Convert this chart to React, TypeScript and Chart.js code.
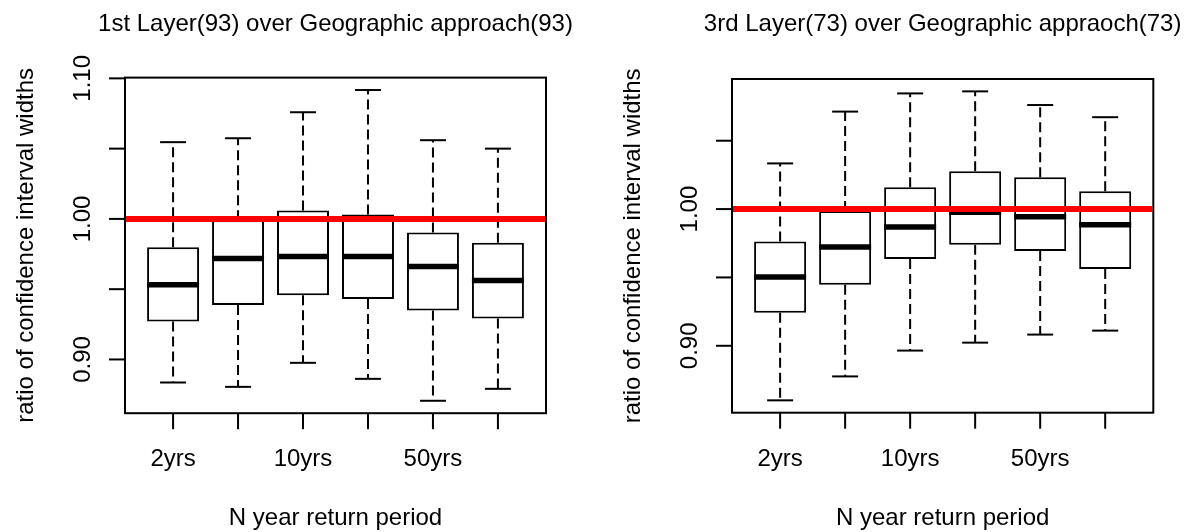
import React, { useEffect, useRef } from "react";
import { Chart, registerables } from "chart.js";

Chart.register(...registerables);

// Return periods: one box per period; only every other label fits under the axis.
const periodPositions = [1, 2, 3, 4, 5, 6];
const periodLabels = ["2yrs", "", "10yrs", "", "50yrs", ""];

// 1st Layer(93) / Geographic approach(93): five-number summaries per return period
const layer1Lower = [0.8836, 0.8805, 0.8976, 0.8862, 0.8706, 0.8791];
const layer1Q1 = [0.927, 0.9388, 0.9457, 0.9431, 0.9348, 0.9291];
const layer1Median = [0.9531, 0.9718, 0.9732, 0.9732, 0.9661, 0.9561];
const layer1Q3 = [0.9799, 0.999, 1.0059, 1.0031, 0.9903, 0.9831];
const layer1Upper = [1.0546, 1.0574, 1.0759, 1.0917, 1.056, 1.05];

// 3rd Layer(73) / Geographic approach(73)
const layer3Lower = [0.8601, 0.8776, 0.8965, 0.9023, 0.9082, 0.9111];
const layer3Q1 = [0.9242, 0.9446, 0.9635, 0.9739, 0.9693, 0.9562];
const layer3Median = [0.9504, 0.9722, 0.9868, 0.9977, 0.9943, 0.9885];
const layer3Q3 = [0.9763, 0.9985, 1.0159, 1.0276, 1.0232, 1.013];
const layer3Upper = [1.0334, 1.0713, 1.0846, 1.0861, 1.0761, 1.0672];

const layer1YTicks = [0.9, 0.95, 1.0, 1.05, 1.1];
const layer1YLabels = ["0.90", "", "1.00", "", "1.10"];
const layer3YTicks = [0.9, 0.95, 1.0, 1.05];
const layer3YLabels = ["0.90", "", "1.00", ""];

// Ratio of 1 means both approaches give equally wide intervals.
const referenceRatio = 1.0;

const FONT = "24px 'Liberation Sans', Arial, Helvetica, sans-serif";
const CANVAS_W = 593;
const CANVAS_H = 532;

type PanelProps = {
  title: string;
  lower: number[];
  q1: number[];
  median: number[];
  q3: number[];
  upper: number[];
  yTicks: number[];
  yLabels: string[];
  pad: { left: number; right: number; top: number; bottom: number };
};

function BoxPanel(props: PanelProps) {
  const canvasRef = useRef<HTMLCanvasElement>(null);

  useEffect(() => {
    const { title, lower, q1, median, q3, upper, yTicks, yLabels, pad } = props;
    const n = q1.length;
    // R-style axis limits: data range widened by 4% on each side
    const lo = Math.min(...lower);
    const hi = Math.max(...upper);
    const yExt = (hi - lo) * 0.04;
    const xExt = n * 0.04;

    const line = (ctx: CanvasRenderingContext2D, x1: number, y1: number, x2: number, y2: number) => {
      ctx.beginPath();
      ctx.moveTo(x1, y1);
      ctx.lineTo(x2, y2);
      ctx.stroke();
    };

    const boxplotParts = {
      id: "boxplotParts",
      afterDatasetsDraw(chart: Chart) {
        const ctx = chart.ctx;
        const xs = chart.scales.x;
        const ys = chart.scales.y;
        const area = chart.chartArea;
        ctx.save();
        ctx.strokeStyle = "#000";
        ctx.lineCap = "butt";
        for (let i = 0; i < n; i++) {
          const pos = periodPositions[i];
          const cx = xs.getPixelForValue(pos);
          const half = xs.getPixelForValue(pos + 0.4) - cx;
          const capHalf = half / 2;
          // dashed whiskers
          ctx.lineWidth = 2;
          ctx.setLineDash([10, 5]);
          line(ctx, cx, ys.getPixelForValue(q3[i]), cx, ys.getPixelForValue(upper[i]));
          line(ctx, cx, ys.getPixelForValue(q1[i]), cx, ys.getPixelForValue(lower[i]));
          ctx.setLineDash([]);
          // staples
          const yu = ys.getPixelForValue(upper[i]);
          const yl = ys.getPixelForValue(lower[i]);
          line(ctx, cx - capHalf, yu, cx + capHalf, yu);
          line(ctx, cx - capHalf, yl, cx + capHalf, yl);
          // median
          ctx.lineWidth = 5.5;
          const ym = ys.getPixelForValue(median[i]);
          line(ctx, cx - half, ym, cx + half, ym);
        }
        // plot frame
        ctx.lineWidth = 2;
        ctx.strokeRect(area.left, area.top, area.right - area.left, area.bottom - area.top);
        // reference line at ratio 1
        ctx.strokeStyle = "#ff0000";
        ctx.lineWidth = 6;
        const yr = ys.getPixelForValue(referenceRatio);
        line(ctx, area.left + 1, yr, area.right - 1, yr);
        ctx.restore();
      },
      afterDraw(chart: Chart) {
        const ctx = chart.ctx;
        const xs = chart.scales.x;
        const ys = chart.scales.y;
        const area = chart.chartArea;
        const tickLen = 16;
        ctx.save();
        ctx.strokeStyle = "#000";
        ctx.fillStyle = "#000";
        ctx.lineWidth = 2;
        ctx.font = FONT;

        // x ticks and labels
        ctx.textAlign = "center";
        ctx.textBaseline = "alphabetic";
        periodPositions.forEach((p, i) => {
          const x = xs.getPixelForValue(p);
          line(ctx, x, area.bottom, x, area.bottom + tickLen);
          if (periodLabels[i]) ctx.fillText(periodLabels[i], x, area.bottom + 53);
        });

        // y ticks and rotated labels
        yTicks.forEach((v, i) => {
          const y = ys.getPixelForValue(v);
          line(ctx, area.left - tickLen, y, area.left, y);
          if (yLabels[i]) {
            ctx.save();
            ctx.translate(area.left - 35, y);
            ctx.rotate(-Math.PI / 2);
            ctx.fillText(yLabels[i], 0, 0);
            ctx.restore();
          }
        });

        const midX = (area.left + area.right) / 2;
        const midY = (area.top + area.bottom) / 2;

        // axis titles
        ctx.fillText("N year return period", midX, area.bottom + 112);
        ctx.save();
        ctx.translate(area.left - 92.5, midY);
        ctx.rotate(-Math.PI / 2);
        ctx.fillText("ratio of confidence interval widths", 0, 0);
        ctx.restore();

        // panel title
        ctx.fillText(title, midX, 30.5);
        ctx.restore();
      },
    };

    const chart = new Chart(canvasRef.current as HTMLCanvasElement, {
      type: "bar",
      data: {
        datasets: [
          {
            data: q1.map((v, i) => ({ x: periodPositions[i], y: [v, q3[i]] })) as any,
            backgroundColor: "#ffffff",
            borderColor: "#000000",
            borderWidth: 2,
            borderSkipped: false,
            categoryPercentage: 1,
            barPercentage: 0.8,
          },
        ],
      },
      options: {
        responsive: false,
        animation: false,
        devicePixelRatio: 1,
        layout: { padding: pad },
        plugins: { legend: { display: false }, tooltip: { enabled: false }, title: { display: false } },
        scales: {
          x: {
            type: "linear",
            display: false,
            offset: false,
            bounds: "data",
            min: 0.5 - xExt,
            max: n + 0.5 + xExt,
            afterBuildTicks: (scale: any) => {
              scale.ticks = periodPositions.map((v) => ({ value: v }));
            },
          },
          y: {
            type: "linear",
            display: false,
            beginAtZero: false,
            bounds: "data",
            min: lo - yExt,
            max: hi + yExt,
          },
        },
      },
      plugins: [boxplotParts],
    });
    return () => chart.destroy();
  }, []);

  return (
    <canvas
      ref={canvasRef}
      width={CANVAS_W}
      height={CANVAS_H}
      style={{ display: "block", width: CANVAS_W, height: CANVAS_H }}
    />
  );
}

export default function App() {
  return (
    <div
      style={{
        position: "absolute",
        left: 0,
        top: 0,
        width: 1186,
        height: 532,
        display: "flex",
        background: "#ffffff",
      }}
    >
      <BoxPanel
        title="1st Layer(93) over Geographic approach(93)"
        lower={layer1Lower}
        q1={layer1Q1}
        median={layer1Median}
        q3={layer1Q3}
        upper={layer1Upper}
        yTicks={layer1YTicks}
        yLabels={layer1YLabels}
        pad={{ left: 125, right: 47, top: 77.6, bottom: 118.8 }}
      />
      <BoxPanel
        title="3rd Layer(73) over Geographic appraoch(73)"
        lower={layer3Lower}
        q1={layer3Q1}
        median={layer3Median}
        q3={layer3Q3}
        upper={layer3Upper}
        yTicks={layer3YTicks}
        yLabels={layer3YLabels}
        pad={{ left: 139, right: 32.7, top: 79, bottom: 119.3 }}
      />
    </div>
  );
}
